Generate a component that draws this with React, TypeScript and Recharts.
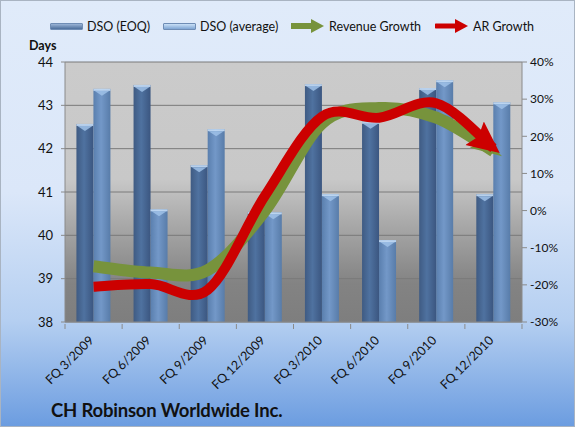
import React from "react";
import {
  ComposedChart,
  Bar,
  Line,
  XAxis,
  YAxis,
  CartesianGrid,
} from "recharts";

const quarters = [
  "FQ 3/2009",
  "FQ 6/2009",
  "FQ 9/2009",
  "FQ 12/2009",
  "FQ 3/2010",
  "FQ 6/2010",
  "FQ 9/2010",
  "FQ 12/2010",
];
const dsoEoq = [42.57, 43.47, 41.62, 40.54, 43.49, 42.62, 43.4, 40.95];
const dsoAvg = [43.38, 40.6, 42.45, 40.53, 40.95, 39.89, 43.58, 43.07];
const revenueGrowth = [-15, -16.7, -16, 0, 23.5, 27.6, 25, 16];
const arGrowth = [-20.5, -19.8, -21.3, 4, 25.3, 25, 28.9, 16.8];
const daysTicks = [38, 39, 40, 41, 42, 43, 44];
const pctTicks = [-30, -20, -10, 0, 10, 20, 30, 40];

const data = quarters.map((q, i) => ({
  q,
  eoq: dsoEoq[i],
  avg: dsoAvg[i],
  rev: revenueGrowth[i],
  ar: arGrowth[i],
}));

const FONT = "Lato, 'Open Sans', sans-serif";

// Excel-style smoothed line: Catmull-Rom through every point, as a d3 curve factory
const smoothCurve = (context: any) => {
  let pts: number[][] = [];
  return {
    areaStart() {},
    areaEnd() {},
    lineStart() {
      pts = [];
    },
    point(x: number, y: number) {
      pts.push([+x, +y]);
    },
    lineEnd() {
      if (!pts.length) return;
      context.moveTo(pts[0][0], pts[0][1]);
      for (let i = 0; i < pts.length - 1; i++) {
        const p0 = pts[i - 1] || pts[i];
        const p1 = pts[i];
        const p2 = pts[i + 1];
        const p3 = pts[i + 2] || p2;
        context.bezierCurveTo(
          p1[0] + (p2[0] - p0[0]) / 6,
          p1[1] + (p2[1] - p0[1]) / 6,
          p2[0] - (p3[0] - p1[0]) / 6,
          p2[1] - (p3[1] - p1[1]) / 6,
          p2[0],
          p2[1]
        );
      }
    },
  };
};

// cylinder-ish bar with a little chevron cap like the Excel 2007 style
const GlassBar = (props: any) => {
  const { x, y, width, height, grad } = props;
  if (!height || height <= 0) return null;
  const cap = Math.min(6, height);
  return (
    <g>
      <rect x={x} y={y} width={width} height={height} fill={`url(#${grad})`} />
      <rect x={x} y={y} width={width} height={2} fill="#c4dcf5" opacity={0.9} />
      <path
        d={`M${x + 1},${y + 2} L${x + width - 1},${y + 2} L${x + width / 2},${y + cap + 1} Z`}
        fill="#9fc1e8"
        opacity={0.85}
      />
    </g>
  );
};

const XTick = (props: any) => {
  const { x, y, payload, index } = props;
  const band = 57.1;
  return (
    <g>
      <line x1={x - band / 2} y1={y} x2={x - band / 2} y2={y + 5} stroke="#8a8a8a" />
      {index === quarters.length - 1 && (
        <line x1={x + band / 2} y1={y} x2={x + band / 2} y2={y + 5} stroke="#8a8a8a" />
      )}
      <text
        x={x + 1}
        y={y + 17}
        textAnchor="end"
        fontSize={12.5}
        fontFamily={FONT}
        fill="#111"
        transform={`rotate(-45, ${x + 1}, ${y + 17})`}
      >
        {payload.value}
      </text>
    </g>
  );
};

const LegendArrow = ({ color, thick }: { color: string; thick: number }) => (
  <svg width={34} height={14} style={{ display: "block" }}>
    <line x1={1} y1={7} x2={22} y2={7} stroke={color} strokeWidth={thick} strokeLinecap="round" />
    <path d="M20,0 L33,7 L20,14 Z" fill={color} />
  </svg>
);

const LegendBar = ({ light }: { light: boolean }) => (
  <div
    style={{
      width: 31,
      height: 5,
      borderRadius: 1,
      background: light
        ? "linear-gradient(to bottom, #c9e0f7, #7fa5d3)"
        : "linear-gradient(to bottom, #9ab4d6, #4d6f9c)",
      border: "1px solid #6f8db5",
    }}
  />
);

export default function App() {
  const legendItem = (left: number, icon: React.ReactNode, label: string) => (
    <div
      style={{
        position: "absolute",
        left,
        top: 18,
        height: 16,
        display: "flex",
        alignItems: "center",
        gap: 4,
        fontSize: 12.5,
        color: "#111",
        fontFamily: FONT,
        whiteSpace: "nowrap",
      }}
    >
      {icon}
      <span>{label}</span>
    </div>
  );

  return (
    <div
      style={{
        position: "absolute",
        left: 0,
        top: 0,
        width: 575,
        height: 427,
        fontFamily: FONT,
        background:
          "linear-gradient(to bottom, #e0ebfa 0%, #dbe7f9 45%, #b5cff1 75%, #8fb5e8 88%, #6b9ce0 100%)",
      }}
    >
      <ComposedChart
        width={575}
        height={427}
        data={data}
        margin={{ top: 62, right: 0, bottom: 0, left: 0 }}
        barCategoryGap="20%"
        barGap={0}
      >
        <defs>
          <linearGradient id="plotBg" x1="0" y1="0" x2="0" y2="1">
            <stop offset="0%" stopColor="#cbcbcb" />
            <stop offset="45%" stopColor="#c8c8c8" />
            <stop offset="62%" stopColor="#a9a9a9" />
            <stop offset="85%" stopColor="#838383" />
            <stop offset="100%" stopColor="#7e7e7e" />
          </linearGradient>
          <linearGradient id="eoqGrad" x1="0" y1="0" x2="1" y2="0">
            <stop offset="0%" stopColor="#3f5b83" />
            <stop offset="45%" stopColor="#4f72a0" />
            <stop offset="100%" stopColor="#3b5680" />
          </linearGradient>
          <linearGradient id="avgGrad" x1="0" y1="0" x2="1" y2="0">
            <stop offset="0%" stopColor="#5a7fae" />
            <stop offset="45%" stopColor="#7398c8" />
            <stop offset="100%" stopColor="#587ca9" />
          </linearGradient>
          <marker
            id="redHead"
            markerUnits="userSpaceOnUse"
            viewBox="0 0 32 32"
            markerWidth={32}
            markerHeight={32}
            refX={24}
            refY={16}
            orient="auto"
          >
            <path d="M0,1 L32,16 L0,31 L5,16 Z" fill="#cc0000" />
          </marker>
          <marker
            id="greenHead"
            markerUnits="userSpaceOnUse"
            viewBox="0 0 32 24"
            markerWidth={32}
            markerHeight={24}
            refX={22}
            refY={12}
            orient="auto"
          >
            <path d="M0,3 L32,12 L0,21 L6,12 Z" fill="#77933c" />
          </marker>
        </defs>
        <CartesianGrid
          yAxisId="left"
          vertical={false}
          stroke="#7a7a7a"
          fill="url(#plotBg)"
          fillOpacity={1}
        />
        <XAxis
          dataKey="q"
          height={105}
          interval={0}
          tickSize={0}
          tickLine={false}
          stroke="#8a8a8a"
          tick={<XTick />}
        />
        <YAxis
          yAxisId="left"
          domain={[38, 44]}
          ticks={daysTicks}
          width={65}
          tickSize={4}
          tickMargin={8}
          stroke="#8a8a8a"
          tick={{ fill: "#111", fontSize: 13, fontFamily: FONT }}
        />
        <YAxis
          yAxisId="right"
          orientation="right"
          domain={[-30, 40]}
          ticks={pctTicks}
          width={53}
          tickSize={5}
          tickMargin={3}
          stroke="#8a8a8a"
          tickFormatter={(v: number) => `${v}%`}
          tick={{ fill: "#111", fontSize: 12, fontFamily: FONT }}
        />
        <Bar
          yAxisId="left"
          dataKey="eoq"
          name="DSO (EOQ)"
          isAnimationActive={false}
          shape={(p: any) => <GlassBar {...p} grad="eoqGrad" />}
        />
        <Bar
          yAxisId="left"
          dataKey="avg"
          name="DSO (average)"
          isAnimationActive={false}
          shape={(p: any) => <GlassBar {...p} grad="avgGrad" />}
        />
        <Line
          yAxisId="right"
          dataKey="rev"
          name="Revenue Growth"
          type={smoothCurve as any}
          stroke="#77933c"
          strokeWidth={12}
          dot={false}
          activeDot={false}
          markerEnd="url(#greenHead)"
          isAnimationActive={false}
        />
        <Line
          yAxisId="right"
          dataKey="ar"
          name="AR Growth"
          type={smoothCurve as any}
          stroke="#cc0000"
          strokeWidth={10}
          dot={false}
          activeDot={false}
          markerEnd="url(#redHead)"
          isAnimationActive={false}
        />
      </ComposedChart>

      {legendItem(50, <LegendBar light={false} />, "DSO (EOQ)")}
      {legendItem(163, <LegendBar light />, "DSO (average)")}
      {legendItem(291, <LegendArrow color="#77933c" thick={6} />, "Revenue Growth")}
      {legendItem(435, <LegendArrow color="#cc0000" thick={5} />, "AR Growth")}

      <div
        style={{
          position: "absolute",
          left: 29,
          top: 38,
          fontSize: 12.5,
          fontWeight: 700,
          color: "#111",
        }}
      >
        Days
      </div>
      <div
        style={{
          position: "absolute",
          left: 51,
          top: 399,
          fontSize: 18.5,
          fontWeight: 700,
          color: "#111",
          letterSpacing: -0.2,
        }}
      >
        CH Robinson Worldwide Inc.
      </div>
      <div
        style={{
          position: "absolute",
          inset: 0,
          border: "1px solid #a9b4c2",
          pointerEvents: "none",
        }}
      />
    </div>
  );
}
